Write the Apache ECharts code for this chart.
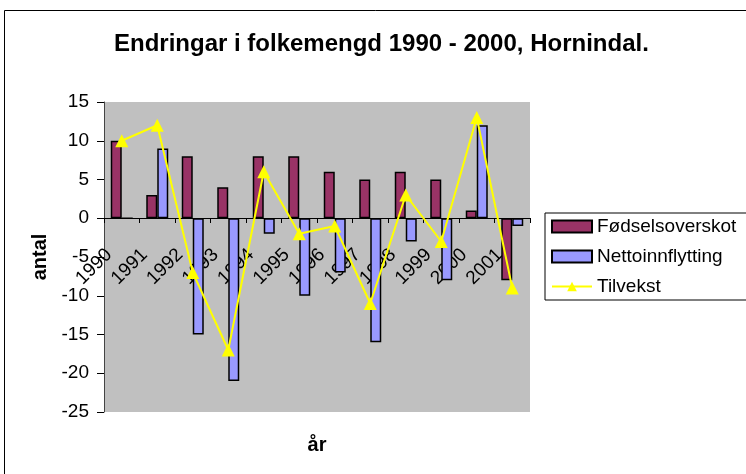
<!DOCTYPE html>
<html>
<head>
<meta charset="utf-8">
<script src="https://cdn.jsdelivr.net/npm/echarts@6/dist/echarts.min.js"></script>
<style>
  html, body { margin: 0; padding: 0; background: #fff; }
  #chart { width: 746px; height: 474px; }
</style>
</head>
<body>
<div id="chart"></div>
<script>
const years = ['1990', '1991', '1992', '1993', '1994', '1995', '1996', '1997', '1998', '1999', '2000', '2001']
const fodselsoverskot = [10, 3, 8, 4, 8, 8, 6, 5, 6, 5, 1, -8]
const nettoinnflytting = [0, 9, -15, -21, -2, -10, -7, -16, -3, -8, 12, -1]
const tilvekst = [10, 12, -7, -17, 6, -2, -1, -11, 3, -3, 13, -9]

const font = 'Liberation Sans, Arial, sans-serif'
const chart = echarts.init(document.getElementById('chart'))

chart.setOption({
  animation: false,
  backgroundColor: '#fff',
  graphic: [
    {
      type: 'rect',
      shape: { x: 4.5, y: 10.5, width: 760, height: 480 },
      style: { fill: 'none', stroke: '#000', lineWidth: 1 },
      silent: true
    }
  ],
  title: {
    text: 'Endringar i folkemengd 1990 - 2000, Hornindal.',
    left: 114,
    top: 32,
    padding: 0,
    textStyle: { fontFamily: font, fontSize: 24, fontWeight: 'bold', color: '#000' }
  },
  grid: {
    left: 104,
    top: 102,
    right: 216,
    bottom: 62,
    outerBoundsMode: 'none',
    containLabel: false,
    show: true,
    backgroundColor: '#c0c0c0',
    borderWidth: 0
  },
  legend: {
    orient: 'vertical',
    left: 545,
    top: 213,
    padding: [4, 14, 4, 6],
    itemWidth: 40,
    itemHeight: 12,
    itemGap: 11,
    borderColor: '#000',
    borderWidth: 1,
    backgroundColor: '#fff',
    textStyle: { fontFamily: font, fontSize: 19, color: '#000' },
    data: [
      { name: 'Fødselsoverskot', icon: 'rect' },
      { name: 'Nettoinnflytting', icon: 'rect' },
      { name: 'Tilvekst' }
    ]
  },
  xAxis: {
    type: 'category',
    data: years,
    position: 'bottom',
    offset: -194,
    name: 'år',
    nameLocation: 'middle',
    nameGap: 217,
    nameTextStyle: { fontFamily: font, fontSize: 20, fontWeight: 'bold', color: '#000' },
    axisLine: { onZero: false, lineStyle: { color: '#000', width: 1 } },
    axisTick: { show: true, length: 5, lineStyle: { color: '#000' } },
    axisLabel: {
      rotate: 45,
      margin: 21,
      padding: [0, 18, 0, 0],
      fontFamily: font,
      fontSize: 19,
      color: '#000'
    },
    splitLine: { show: false }
  },
  yAxis: {
    type: 'value',
    min: -25,
    max: 15,
    interval: 5,
    name: 'antal',
    nameLocation: 'middle',
    nameGap: 54,
    nameTextStyle: { fontFamily: font, fontSize: 20, fontWeight: 'bold', color: '#000' },
    axisLine: { show: true, lineStyle: { color: '#444', width: 1 } },
    axisTick: { show: true, length: 7, lineStyle: { color: '#000' } },
    axisLabel: { fontFamily: font, fontSize: 19, color: '#000', margin: 15 },
    splitLine: { show: false }
  },
  series: [
    {
      name: 'Fødselsoverskot',
      type: 'bar',
      data: fodselsoverskot,
      barWidth: 11,
      barGap: '0%',
      itemStyle: { color: '#993366', borderColor: '#000', borderWidth: 1.5 }
    },
    {
      name: 'Nettoinnflytting',
      type: 'bar',
      data: nettoinnflytting,
      barWidth: 11,
      barGap: '0%',
      itemStyle: { color: '#9999ff', borderColor: '#000', borderWidth: 1.5 }
    },
    {
      name: 'Tilvekst',
      type: 'line',
      data: tilvekst,
      symbol: 'triangle',
      symbolSize: 13,
      lineStyle: { color: '#ffff00', width: 2 },
      itemStyle: { color: '#ffff00' },
      z: 5
    }
  ]
})
</script>
</body>
</html>
